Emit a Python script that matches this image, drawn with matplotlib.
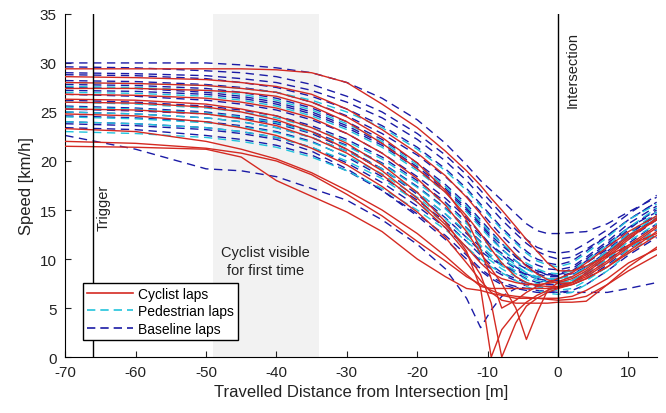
# Speed profiles of the laps approaching the intersection
import matplotlib.pyplot as plt

plt.rcParams['font.family'] = ['Liberation Sans', 'DejaVu Sans']
plt.rcParams['axes.unicode_minus'] = False

# distance grid shared by all laps [m]
dist = [-70, -60, -50, -45, -40, -35, -30, -25, -20, -16, -13, -11, -9.5, -8,
        -6, -4.5, -3, -1.5, 0, 2, 4, 7, 10, 14]

# cyclist laps [km/h]
cyclist_laps = [
    [29.4, 29.4, 29.4, 29.4, 29.3, 29.0, 28.0, 25.8, 23.4, 21.0, 19.0, 17.5, 16.2, 15.0, 13.3, 12.0, 10.8, 9.6, 8.8, 8.8, 9.3, 10.3, 11.4, 12.6],
    [28.6, 28.5, 28.3, 28.0, 27.6, 26.8, 25.3, 23.2, 20.8, 18.5, 16.3, 14.6, 13.2, 12.0, 10.4, 9.3, 8.5, 7.9, 7.5, 7.6, 8.2, 9.6, 11.2, 13.2],
    [28.0, 27.9, 27.7, 27.4, 27.0, 26.0, 24.5, 22.4, 19.8, 17.0, 14.0, 11.0, 8.0, 5.0, 5.8, 6.6, 7.2, 7.6, 8.0, 8.6, 9.6, 11.2, 12.8, 14.4],
    [27.4, 27.4, 27.2, 27.0, 26.6, 25.6, 24.0, 21.8, 19.2, 16.8, 14.4, 12.6, 11.0, 9.6, 8.2, 7.6, 7.3, 7.2, 7.2, 7.6, 8.6, 10.2, 12.0, 14.2],
    [26.8, 26.7, 26.4, 26.0, 25.4, 24.4, 22.8, 20.8, 18.2, 15.5, 12.8, 10.6, 9.0, 7.5, 5.0, 1.8, 4.5, 6.8, 7.6, 8.0, 8.8, 10.4, 12.2, 14.0],
    [26.3, 26.2, 25.8, 25.3, 24.6, 23.4, 21.8, 19.6, 16.8, 13.8, 10.8, 7.0, 0.0, 2.8, 4.6, 5.6, 6.3, 6.8, 7.2, 7.6, 8.4, 9.8, 11.4, 13.4],
    [26.0, 25.9, 25.5, 25.0, 24.2, 23.0, 21.2, 19.0, 16.2, 13.5, 11.2, 9.6, 8.6, 8.0, 7.6, 7.4, 7.4, 7.5, 7.7, 8.2, 9.0, 10.6, 12.4, 14.0],
    [25.3, 25.2, 24.8, 24.3, 23.6, 22.4, 20.8, 18.6, 15.8, 13.2, 10.6, 8.4, 5.5, 0.0, 3.5, 5.2, 6.0, 6.6, 7.0, 7.4, 8.0, 9.2, 10.8, 12.8],
    [24.8, 24.6, 24.0, 23.4, 22.6, 21.3, 19.6, 17.4, 14.8, 12.2, 9.6, 7.8, 6.6, 5.8, 5.5, 5.5, 5.5, 5.5, 5.6, 5.6, 5.7, 7.4, 9.2, 11.2],
    [23.3, 23.0, 22.0, 21.2, 20.2, 18.8, 17.0, 15.0, 12.6, 10.3, 8.4, 7.2, 7.0, 7.0, 7.0, 7.0, 7.0, 7.0, 7.1, 7.4, 8.0, 9.2, 10.6, 12.4],
    [22.0, 21.8, 21.3, 20.8, 20.0, 18.6, 16.6, 14.4, 11.8, 9.8, 8.2, 7.4, 6.8, 6.4, 6.2, 6.1, 6.0, 5.9, 5.8, 5.9, 6.2, 7.4, 8.8, 10.4],
    [21.5, 21.4, 21.2, 20.4, 18.0, 16.4, 14.8, 12.8, 10.0, 8.2, 7.0, 6.8, 6.5, 6.3, 6.0, 6.0, 6.0, 6.0, 6.0, 6.2, 6.8, 8.0, 9.6, 11.0],
]

# pedestrian laps [km/h]
pedestrian_laps = [
    [28.0, 27.9, 27.7, 27.4, 27.0, 26.2, 25.0, 23.4, 21.2, 19.0, 17.0, 15.4, 14.2, 13.0, 11.6, 10.6, 9.8, 9.4, 9.2, 9.6, 10.6, 12.2, 14.0, 15.6],
    [27.6, 27.5, 27.2, 26.8, 26.2, 25.2, 23.8, 22.0, 19.6, 17.4, 15.4, 13.8, 12.6, 11.6, 10.4, 9.6, 9.0, 8.6, 8.5, 8.8, 9.8, 11.4, 13.2, 15.2],
    [27.0, 26.9, 26.6, 26.2, 25.6, 24.6, 23.2, 21.4, 19.0, 16.8, 14.8, 13.2, 12.0, 11.0, 9.8, 9.0, 8.4, 8.0, 7.9, 8.2, 9.2, 10.8, 12.6, 14.8],
    [26.0, 25.8, 25.4, 25.0, 24.4, 23.4, 22.0, 20.2, 17.8, 15.6, 13.6, 12.2, 11.2, 10.4, 9.4, 8.6, 8.0, 7.6, 7.5, 7.8, 8.8, 10.4, 12.2, 14.2],
    [25.5, 25.3, 24.9, 24.5, 23.9, 22.9, 21.5, 19.7, 17.3, 15.1, 13.1, 11.7, 10.8, 10.0, 9.2, 8.6, 8.2, 8.0, 8.0, 8.3, 9.2, 10.6, 12.4, 14.4],
    [25.0, 24.8, 24.4, 24.0, 23.4, 22.4, 21.0, 19.2, 16.8, 14.6, 12.8, 11.4, 10.4, 9.6, 8.8, 8.2, 7.8, 7.6, 7.6, 7.8, 8.6, 10.0, 11.8, 13.6],
    [24.5, 24.3, 23.9, 23.5, 22.9, 21.9, 20.5, 18.7, 16.3, 14.1, 12.2, 11.0, 10.1, 9.3, 8.5, 7.9, 7.5, 7.2, 7.1, 7.4, 8.2, 9.6, 11.4, 13.4],
    [24.0, 23.8, 23.4, 23.0, 22.4, 21.4, 20.0, 18.2, 15.8, 13.6, 11.8, 10.6, 9.8, 9.0, 8.2, 7.6, 7.2, 6.9, 6.8, 7.0, 7.8, 9.2, 11.0, 13.0],
    [23.0, 22.8, 22.4, 22.0, 21.4, 20.4, 19.0, 17.2, 15.0, 13.0, 11.2, 10.0, 9.2, 8.6, 7.8, 7.2, 6.8, 6.5, 6.4, 6.6, 7.4, 8.8, 10.6, 12.6],
]

# baseline laps [km/h]
baseline_laps = [
    [30.0, 30.0, 30.0, 29.8, 29.5, 29.0, 28.0, 26.4, 24.2, 21.8, 19.6, 18.0, 17.0, 16.0, 14.6, 13.6, 12.9, 12.6, 12.6, 12.7, 12.8, 13.6, 14.8, 16.3],
    [29.6, 29.5, 29.2, 29.0, 28.6, 27.8, 26.6, 25.0, 22.8, 20.6, 18.6, 17.0, 15.8, 14.6, 13.0, 12.0, 11.2, 10.8, 10.6, 10.8, 11.6, 13.0, 14.6, 16.5],
    [29.0, 28.9, 28.7, 28.4, 28.0, 27.2, 26.0, 24.4, 22.2, 20.0, 18.0, 16.4, 15.2, 14.0, 12.6, 11.6, 10.8, 10.3, 10.0, 10.2, 11.0, 12.4, 14.0, 15.8],
    [28.8, 28.7, 28.4, 28.0, 27.5, 26.6, 25.3, 23.6, 21.4, 19.2, 17.2, 15.6, 14.4, 13.2, 11.8, 10.8, 10.0, 9.6, 9.4, 9.8, 10.8, 12.4, 14.0, 15.8],
    [28.2, 28.1, 27.8, 27.5, 27.0, 26.0, 24.6, 22.8, 20.6, 18.4, 16.4, 14.8, 13.6, 12.4, 11.0, 10.0, 9.4, 9.0, 8.9, 9.2, 10.2, 11.8, 13.6, 15.4],
    [27.8, 27.7, 27.4, 27.0, 26.4, 25.4, 24.0, 22.2, 19.8, 17.6, 15.6, 14.0, 12.8, 11.6, 10.2, 9.3, 8.8, 8.5, 8.5, 9.0, 10.0, 11.6, 13.2, 15.0],
    [27.5, 27.4, 27.0, 26.6, 26.0, 25.0, 23.6, 21.8, 19.4, 17.2, 15.2, 13.6, 12.4, 11.4, 10.2, 9.4, 8.8, 8.4, 8.3, 8.5, 9.2, 10.6, 12.4, 14.6],
    [27.2, 27.1, 26.8, 26.4, 25.8, 24.8, 23.4, 21.6, 19.2, 17.0, 15.0, 13.4, 12.2, 11.0, 9.8, 9.0, 8.5, 8.2, 8.2, 8.6, 9.6, 11.2, 13.0, 15.2],
    [26.8, 26.6, 26.2, 25.8, 25.2, 24.2, 22.8, 20.8, 18.4, 16.2, 14.2, 12.6, 11.4, 10.4, 9.2, 8.5, 8.0, 7.8, 7.8, 8.2, 9.2, 10.8, 12.6, 14.6],
    [26.2, 26.0, 25.6, 25.2, 24.6, 23.6, 22.2, 20.4, 18.0, 15.8, 13.8, 12.4, 11.4, 10.6, 9.6, 9.0, 8.6, 8.4, 8.4, 8.8, 9.8, 11.4, 13.2, 14.8],
    [25.6, 25.4, 25.0, 24.6, 24.0, 23.0, 21.6, 19.8, 17.4, 15.2, 13.2, 11.8, 10.8, 10.0, 9.0, 8.4, 8.0, 7.7, 7.6, 7.8, 8.6, 10.2, 12.0, 14.0],
    [25.3, 25.1, 24.8, 24.4, 23.8, 22.8, 21.2, 19.2, 16.6, 14.2, 12.2, 10.8, 10.0, 9.4, 8.8, 8.4, 8.2, 8.0, 8.0, 8.4, 9.2, 10.8, 12.4, 14.2],
    [25.0, 24.8, 24.4, 24.0, 23.4, 22.4, 21.0, 19.2, 16.8, 14.6, 12.6, 11.2, 10.2, 9.4, 8.6, 8.0, 7.6, 7.4, 7.4, 7.6, 8.4, 9.8, 11.6, 13.6],
    [24.6, 24.4, 24.0, 23.6, 23.0, 22.0, 20.4, 18.4, 16.0, 13.8, 11.8, 10.4, 9.4, 8.6, 8.0, 7.6, 7.3, 7.2, 7.2, 7.4, 8.0, 9.4, 11.0, 13.0],
    [24.0, 23.8, 23.4, 23.0, 22.4, 21.4, 19.8, 17.8, 15.4, 13.2, 11.2, 9.8, 9.0, 8.4, 7.8, 7.4, 7.2, 7.0, 7.0, 7.6, 8.6, 10.0, 11.2, 12.4],
    [23.8, 23.6, 23.2, 22.8, 22.2, 21.0, 19.2, 17.0, 14.4, 12.0, 10.0, 8.8, 8.0, 7.4, 7.0, 6.8, 6.6, 6.6, 6.6, 6.8, 7.4, 8.8, 10.4, 12.2],
    [23.4, 23.2, 22.6, 22.2, 21.6, 20.6, 19.0, 17.0, 14.6, 12.4, 10.4, 9.0, 8.2, 7.6, 7.2, 7.0, 6.8, 6.7, 6.6, 6.6, 6.6, 6.6, 7.0, 7.6],
    [22.6, 21.2, 19.2, 19.0, 18.4, 17.2, 16.0, 14.0, 11.5, 9.0, 6.0, 3.0, 4.8, 6.2, 7.0, 7.4, 7.6, 7.8, 8.0, 8.6, 9.6, 11.0, 12.6, 14.4],
]

trigger_x = -66
visible_start, visible_end = -49, -34

fig = plt.figure(figsize=(6.66, 4.14), dpi=100)
ax = fig.add_axes([0.098, 0.135, 0.889, 0.829])

# shaded area where the cyclist becomes visible
ax.axvspan(visible_start, visible_end, color='#f2f2f2', zorder=0, lw=0)

blue = '#1b1ba6'
cyan = '#22c3dc'
red = '#d42a22'

for lap in baseline_laps:
    ax.plot(dist, lap, color=blue, lw=1.0, linestyle=(0, (6, 4)), zorder=2)
for lap in pedestrian_laps:
    ax.plot(dist, lap, color=cyan, lw=1.0, linestyle=(0, (6, 4)), zorder=2)
for lap in cyclist_laps:
    ax.plot(dist, lap, color=red, lw=1.0, zorder=3)

# legend handles
ax.plot([], [], color=red, lw=1.2, label='Cyclist laps')
ax.plot([], [], color=cyan, lw=1.2, linestyle=(0, (5, 3)), label='Pedestrian laps')
ax.plot([], [], color=blue, lw=1.2, linestyle=(0, (5, 3)), label='Baseline laps')

ax.axvline(trigger_x, color='black', lw=1.0, zorder=4)
ax.axvline(0, color='black', lw=1.0, zorder=4)

ax.text(-64.6, 13.0, 'Trigger', rotation=90, ha='center', va='bottom', fontsize=10.5, color='#222222')
ax.text(2.1, 25.5, 'Intersection', rotation=90, ha='center', va='bottom', fontsize=10.5, color='#222222')
ax.text(-41.6, 9.8, 'Cyclist visible\nfor first time', ha='center', va='center',
        fontsize=10.5, linespacing=1.35, color='#222222')

ax.set_xlim(-70, 14.1)
ax.set_ylim(0, 35)
ax.set_xticks(range(-70, 11, 10))
ax.set_yticks(range(0, 36, 5))
ax.tick_params(direction='in', labelsize=11, length=4, colors='#222222')
ax.tick_params(axis='x', pad=6)
ax.tick_params(axis='y', pad=6)
ax.spines['top'].set_visible(False)
ax.spines['right'].set_visible(False)

ax.set_xlabel('Travelled Distance from Intersection [m]', fontsize=12, color='#222222', labelpad=3)
ax.set_ylabel('Speed [km/h]', fontsize=12, color='#222222', labelpad=4)

ax.legend(loc='lower left', bbox_to_anchor=(0.018, 0.03), fontsize=10, handlelength=3.3,
          fancybox=False, edgecolor='black', framealpha=1, borderpad=0.3, labelspacing=0.25,
          handletextpad=0.4)

plt.savefig('out.png')
